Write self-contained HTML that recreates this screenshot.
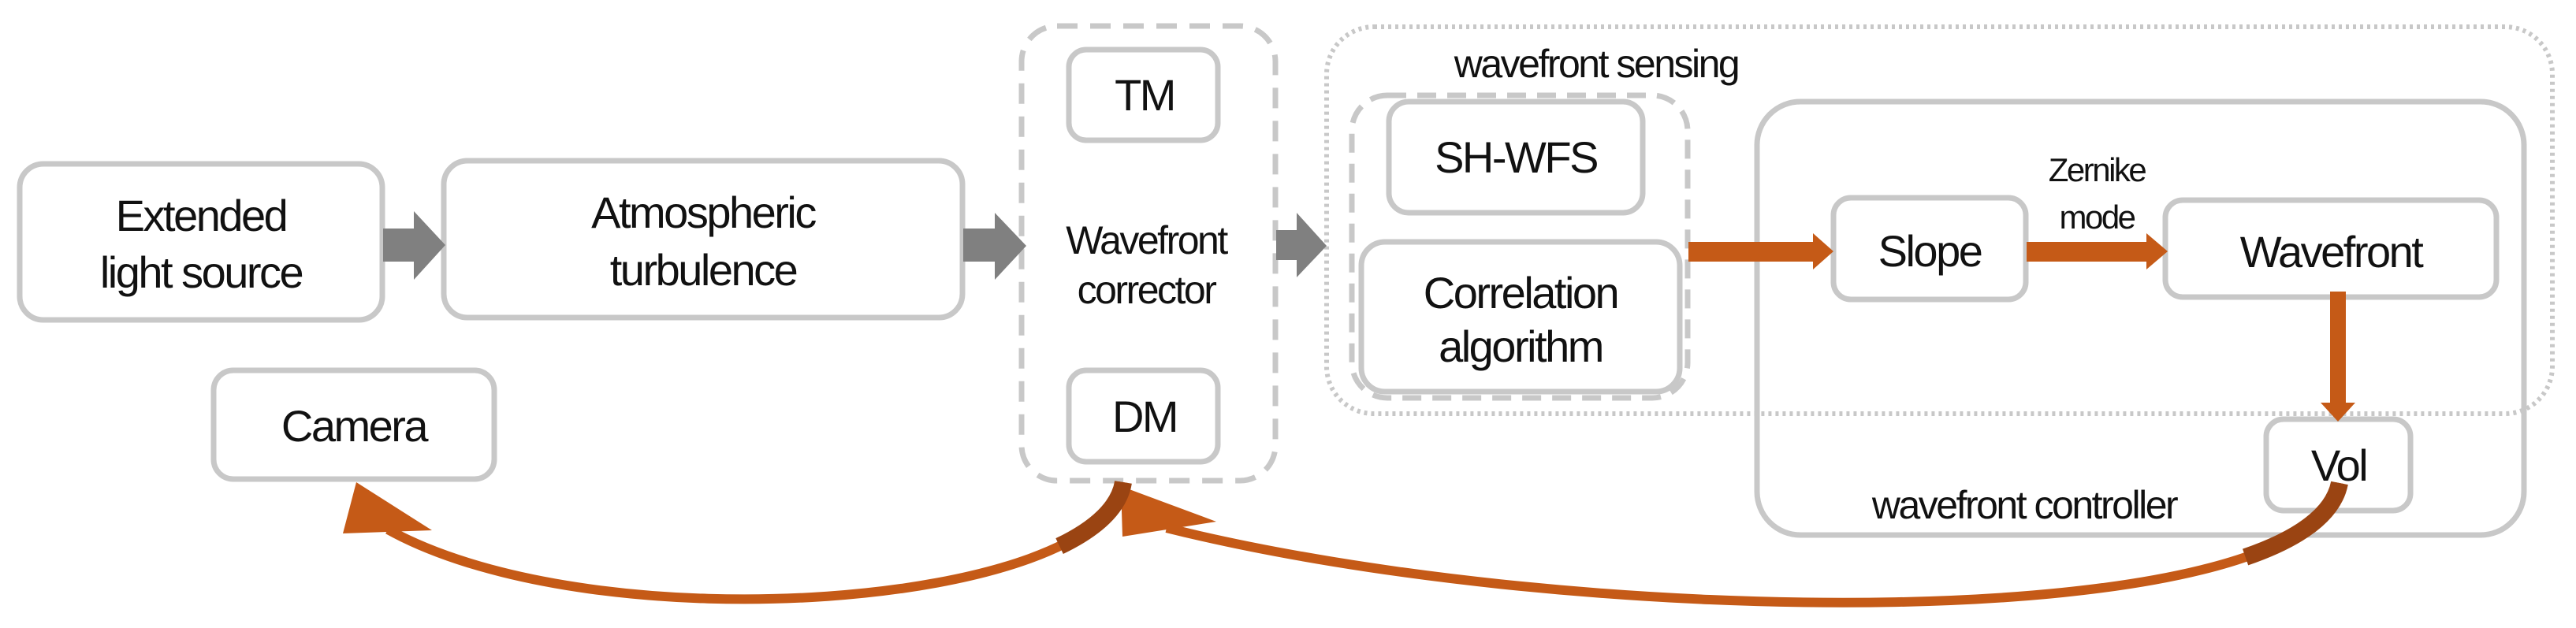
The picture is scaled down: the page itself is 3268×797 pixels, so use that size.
<!DOCTYPE html>
<html><head><meta charset="utf-8"><style>
html,body{margin:0;padding:0;background:#fff;}
svg{display:block;}
text{font-family:"Liberation Sans",sans-serif;fill:#111;text-anchor:middle;letter-spacing:-2.5px;}
</style></head><body>
<svg width="3268" height="797" viewBox="0 0 3268 797" xmlns="http://www.w3.org/2000/svg">
<g fill="none" stroke="#c8c8c8" stroke-width="7">
<rect x="1296" y="33" width="322" height="577" rx="45" stroke-dasharray="26 16"/>
<rect x="1683" y="34" width="1555" height="491" rx="60" stroke-dasharray="4 5" stroke-width="6"/>
<rect x="1715" y="121" width="426" height="384" rx="45" stroke-dasharray="24 14"/>
<rect x="2229" y="129" width="973" height="550" rx="55"/>
<rect x="25" y="208" width="460" height="198" rx="30"/>
<rect x="563" y="204" width="658" height="199" rx="30"/>
<rect x="1356" y="63" width="189" height="115" rx="22"/>
<rect x="1356" y="470" width="189" height="116" rx="22"/>
<rect x="271" y="470" width="356" height="138" rx="25"/>
<rect x="1762" y="129" width="322" height="141" rx="25"/>
<rect x="1727" y="307" width="404" height="190" rx="30"/>
<rect x="2326" y="251" width="244" height="129" rx="22"/>
<rect x="2747" y="254" width="420" height="123" rx="22"/>
<rect x="2875" y="532" width="183" height="116" rx="22"/>
</g>
<g fill="#808080">
<polygon points="486,290 525,290 525,268 565,311 525,355 525,332 486,332"/>
<polygon points="1222,290 1262,290 1262,270 1302,312 1262,355 1262,332 1222,332"/>
<polygon points="1619,292 1645,292 1645,270 1683,312 1645,352 1645,330 1619,330"/>
</g>
<g fill="#c55a17">
<polygon points="2142,307 2300,307 2300,296 2326,319 2300,342 2300,332 2142,332"/>
<polygon points="2571,307 2723,307 2723,296 2750,319 2723,342 2723,332 2571,332"/>
<polygon points="2956,370 2976,370 2976,511 2988,511 2966,535 2944,511 2956,511"/>
<polygon points="452,612 435,677 548,673"/>
<polygon points="1422,617 1424,681 1543,662"/>
</g>
<g fill="none" stroke-linecap="butt">
<path d="M1425 612 C1400 770, 760 820, 492 672" stroke="#c55a17" stroke-width="12"/>
<path d="M1425 612 C1420 643.6, 1390.4 670.9, 1344.1 693.1" stroke="#9a4412" stroke-width="22"/>
<path d="M2968 613 C2930 810, 2000 800, 1480 670" stroke="#c55a17" stroke-width="12"/>
<path d="M2968 613 C2960.4 652.4, 2917.1 683.5, 2848.6 707" stroke="#9a4412" stroke-width="22"/>
</g>
<g font-size="56">
<text x="255" y="293">Extended</text>
<text x="255" y="365">light source</text>
<text x="892" y="289">Atmospheric</text>
<text x="892" y="362">turbulence</text>
<text x="1452" y="140">TM</text>
<text x="1452" y="548">DM</text>
<text x="449" y="560">Camera</text>
<text x="1923" y="219">SH-WFS</text>
<text x="1929" y="391">Correlation</text>
<text x="1929" y="459">algorithm</text>
<text x="2448" y="338">Slope</text>
<text x="2957" y="339">Wavefront</text>
<text x="2967" y="610">Vol</text>
</g>
<g font-size="50">
<text x="1454" y="322">Wavefront</text>
<text x="1454" y="385">corrector</text>
<text x="2025" y="98">wavefront sensing</text>
<text x="2568" y="658">wavefront controller</text>
</g>
<g font-size="42">
<text x="2660" y="230">Zernike</text>
<text x="2660" y="290">mode</text>
</g>
</svg>
</body></html>
